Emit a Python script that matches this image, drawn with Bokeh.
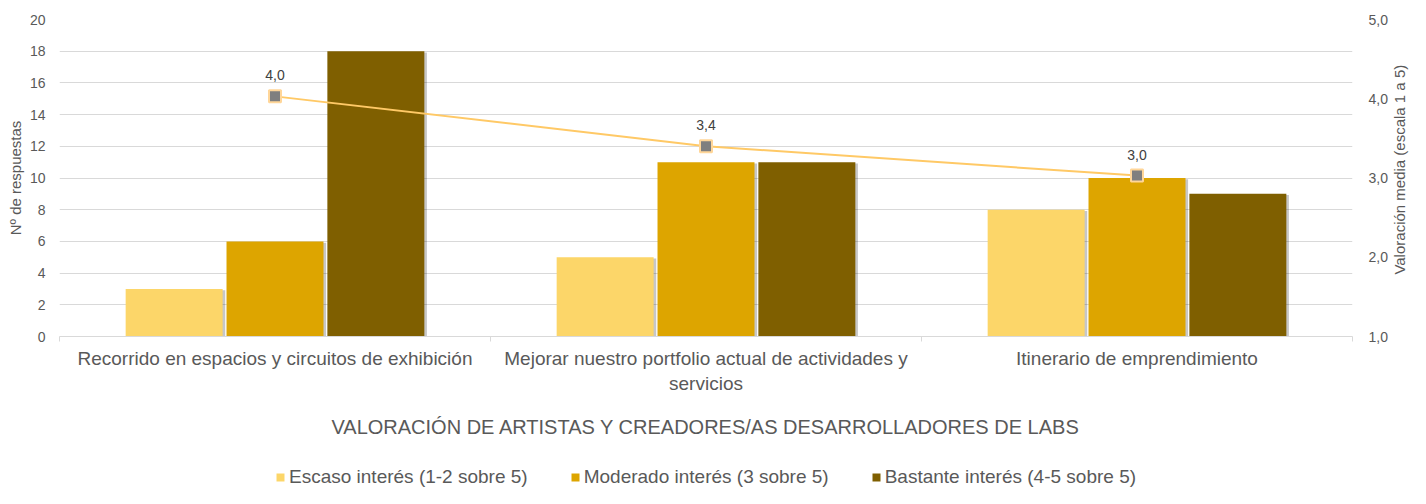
import math
from bokeh.plotting import figure
from bokeh.layouts import column, row
from bokeh.models import (Range1d, LinearAxis, FixedTicker, CustomJSTickFormatter,
                          Legend, LegendItem, ColumnDataSource, LabelSet, Label)
from bokeh.core.properties import value
from bokeh.embed import file_html
from bokeh.resources import INLINE

categories = ["Recorrido en espacios y circuitos de exhibición",
              "Mejorar nuestro portfolio actual de actividades y servicios",
              "Itinerario de emprendimiento"]
category_labels = ["Recorrido en espacios y circuitos de exhibición",
                   "Mejorar nuestro portfolio actual de actividades y\nservicios",
                   "Itinerario de emprendimiento"]
series_names = ["Escaso interés (1-2 sobre 5)",
                "Moderado interés (3 sobre 5)",
                "Bastante interés (4-5 sobre 5)"]
escaso = [3, 5, 8]
moderado = [6, 11, 10]
bastante = [18, 11, 9]
media = [4.03, 3.40, 3.03]
media_labels = ["4,0", "3,4", "3,0"]
left_ticks = list(range(0, 21, 2))
right_ticks = [1, 2, 3, 4, 5]

colors = ["#FCD669", "#DDA500", "#7F5F00"]
FONT = "Liberation Sans"
TXT = "#595959"

centers = [i + 0.5 for i in range(len(categories))]

MAIN_W, MAIN_H, SIDE_W, LEG_H = 1390, 458, 20, 30

p = figure(width=MAIN_W, height=MAIN_H, x_range=Range1d(0, 3), y_range=Range1d(0, 20),
           output_backend="svg", toolbar_location=None,
           min_border_left=59, min_border_right=37, min_border_top=19, min_border_bottom=122)
p.outline_line_color = None
p.xgrid.visible = False
p.ygrid.grid_line_color = "#D9D9D9"
p.ygrid.grid_line_width = 1

# left axis
ya = p.yaxis[0]
ya.ticker = FixedTicker(ticks=left_ticks)
ya.axis_line_color = None
ya.major_tick_line_color = None
ya.minor_tick_line_color = None
ya.major_label_text_font = FONT
ya.major_label_text_font_size = "14px"
ya.major_label_text_color = TXT
ya.major_label_standoff = 8
ya.axis_label = "Nº de respuestas"
ya.axis_label_text_font = FONT
ya.axis_label_text_font_size = "15px"
ya.axis_label_text_font_style = "normal"
ya.axis_label_text_color = TXT
ya.axis_label_standoff = 3

# x axis
xa = p.xaxis[0]
xa.ticker = FixedTicker(ticks=centers, minor_ticks=[0, 1, 2, 3])
xa.major_label_overrides = {c: lab for c, lab in zip(centers, category_labels)}
xa.axis_line_color = "#D9D9D9"
xa.major_tick_line_color = None
xa.minor_tick_line_color = "#D9D9D9"
xa.minor_tick_out = 5
xa.minor_tick_in = 0
xa.major_label_text_font = FONT
xa.major_label_text_font_size = "19px"
xa.major_label_text_color = TXT
xa.major_label_standoff = 5
xa.axis_label = "VALORACIÓN DE ARTISTAS Y CREADORES/AS DESARROLLADORES DE LABS"
xa.axis_label_text_font = FONT
xa.axis_label_text_font_size = "20px"
xa.axis_label_text_font_style = "normal"
xa.axis_label_text_color = TXT
xa.axis_label_standoff = 19

# right axis
p.extra_y_ranges = {"right": Range1d(1, 5)}
ra = LinearAxis(y_range_name="right",
                ticker=FixedTicker(ticks=right_ticks),
                formatter=CustomJSTickFormatter(code="return tick.toFixed(1).replace('.', ',');"))
ra.axis_line_color = None
ra.major_tick_line_color = None
ra.minor_tick_line_color = None
ra.major_label_text_font = FONT
ra.major_label_text_font_size = "14px"
ra.major_label_text_color = TXT
ra.major_label_standoff = 10
p.add_layout(ra, "right")

# bars
width = 0.225
offsets = [-0.234, 0.0, 0.234]
for vals, off, col in zip([escaso, moderado, bastante], offsets, colors):
    xs = [c + off for c in centers]
    src = ColumnDataSource(dict(x=xs, top=vals))
    sh = ColumnDataSource(dict(x=[x + 0.006 for x in xs], top=[v - 0.08 for v in vals]))
    p.vbar(x="x", top="top", width=width, source=sh, fill_color="#000000",
           fill_alpha=0.22, line_color=None)
    p.vbar(x="x", top="top", width=width, source=src, fill_color=col, line_color=None)

# line with markers
lsrc = ColumnDataSource(dict(x=centers, y=media, lab=media_labels))
p.line(x="x", y="y", source=lsrc, y_range_name="right", line_color="#FFC966", line_width=2)
p.scatter(x="x", y="y", source=lsrc, y_range_name="right", marker="square", size=12,
          fill_color="#7F7F7F", line_color="#FFD699", line_width=2)
labels = LabelSet(x="x", y="y", text="lab", source=lsrc, y_range_name="right",
                  y_offset=16, text_align="center", text_baseline="bottom",
                  text_font=value(FONT), text_font_size=value("14px"), text_color="#404040")
p.add_layout(labels)

# side figure with the right-axis title
side = figure(width=SIDE_W, height=MAIN_H, x_range=Range1d(0, 1), y_range=Range1d(0, MAIN_H),
              output_backend="svg", toolbar_location=None, x_axis_type=None, y_axis_type=None,
              min_border=0)
side.outline_line_color = None
side.grid.visible = False
side.add_layout(Label(x=0.45, y=MAIN_H - 217, text="Valoración media (escala 1 a 5)",
                      angle=math.pi / 2, text_align="center", text_baseline="middle",
                      text_font=FONT, text_font_size="15px", text_color=TXT))

# legend figure
leg = figure(width=MAIN_W + SIDE_W, height=LEG_H, x_range=Range1d(0, 1), y_range=Range1d(0, 1),
             output_backend="svg", toolbar_location=None, x_axis_type=None, y_axis_type=None,
             min_border=0)
leg.outline_line_color = None
leg.grid.visible = False
items = []
for name, col in zip(series_names, colors):
    r = leg.vbar(x=[0.5], top=[0], width=0.0, fill_color=col, line_color=None)
    items.append(LegendItem(label=name, renderers=[r]))
legend = Legend(items=items, orientation="horizontal", location=(275, 0),
                border_line_color=None, background_fill_alpha=0,
                glyph_width=10, glyph_height=10, spacing=42, label_standoff=4,
                label_text_font=FONT, label_text_font_size="19px",
                label_text_color=TXT, padding=2, margin=0)
leg.add_layout(legend)

layout = column(row(p, side, spacing=0), leg, spacing=0)
open("out.html", "w").write(file_html(layout, INLINE))
